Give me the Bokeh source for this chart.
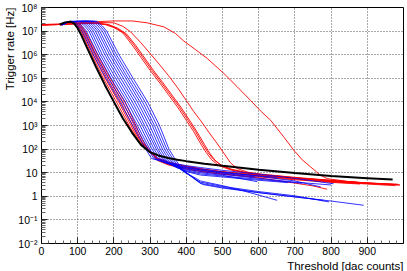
import numpy as np
from bokeh.plotting import figure
from bokeh.models import FixedTicker, Range1d, CustomJSTickFormatter, Title
from bokeh.embed import file_html
from bokeh.resources import INLINE

# ---------------- axis ticks / labels ----------------
X_MAJOR = [0, 100, 200, 300, 400, 500, 600, 700, 800, 900]
Y_EXPS = [-2, -1, 0, 1, 2, 3, 4, 5, 6, 7, 8]
Y_TICK_LABELS = ["10\u207b\u00b2", "10\u207b\u00b9", "1", "10", "10\u00b2", "10\u00b3",
                 "10\u2074", "10\u2075", "10\u2076", "10\u2077", "10\u2078"]
X_TITLE = "Threshold [dac counts]"
Y_TITLE = "Trigger rate [Hz]"

# ---------------- data: threshold [dac] and log10(rate [Hz]) ----------------
# black
blk_thr = [50, 65, 80, 90, 100, 110, 125, 150, 175, 200, 225, 250, 275, 300, 325, 350, 375, 400, 450, 500, 600, 700, 800, 900, 970]
blk_log = [7.28, 7.37, 7.40, 7.33, 7.12, 6.83, 6.32, 5.50, 4.72, 4.00, 3.30, 2.70, 2.18, 1.87, 1.72, 1.62, 1.55, 1.49, 1.38, 1.29, 1.13, 0.99, 0.86, 0.77, 0.71]

# red, steep group
r1_thr = [52, 65, 80, 94, 109, 139, 171, 207, 242, 265, 288, 320, 350, 400, 450, 500, 600, 700, 800, 900, 985]
r1_log = [7.26, 7.35, 7.39, 7.30, 7.0, 6.0, 5.0, 4.0, 3.0, 2.4, 2.0, 1.62, 1.45, 1.28, 1.15, 1.05, 0.90, 0.77, 0.65, 0.56, 0.51]
r2_thr = [52, 66, 82, 97, 112, 143, 176, 213, 247, 268, 290, 320, 350, 400, 450, 500, 600, 700, 800, 900, 978]
r2_log = [7.25, 7.35, 7.39, 7.30, 7.0, 6.0, 5.0, 4.0, 3.0, 2.4, 2.0, 1.58, 1.40, 1.22, 1.10, 1.00, 0.86, 0.73, 0.61, 0.52, 0.45]
r3_thr = [53, 67, 84, 100, 115, 147, 181, 219, 251, 271, 292, 320, 350, 400, 450, 500, 600, 700, 750, 789]
r3_log = [7.25, 7.35, 7.39, 7.30, 7.0, 6.0, 5.0, 4.0, 3.0, 2.4, 2.0, 1.55, 1.36, 1.18, 1.05, 0.95, 0.78, 0.56, 0.44, 0.30]
r4_thr = [54, 68, 86, 103, 118, 151, 186, 225, 256, 274, 294, 320, 350, 400, 450, 500, 600, 700, 800, 900, 990]
r4_log = [7.26, 7.36, 7.40, 7.31, 7.0, 6.0, 5.0, 4.0, 3.0, 2.4, 2.0, 1.60, 1.44, 1.26, 1.13, 1.03, 0.88, 0.75, 0.63, 0.54, 0.48]
r5_thr = [55, 70, 88, 106, 121, 155, 190, 231, 261, 278, 296, 320, 350, 400, 450, 500, 600, 700, 800, 880]
r5_log = [7.27, 7.36, 7.40, 7.31, 7.0, 6.0, 5.0, 4.0, 3.0, 2.4, 2.0, 1.52, 1.33, 1.15, 1.03, 0.93, 0.82, 0.70, 0.59, 0.52]

# red, slow group (start at 0)
r6_thr = [0, 50, 100, 150, 175, 200, 225, 250, 275, 300, 325, 350, 375, 400, 420, 440, 455, 470, 490, 520, 560, 600, 700, 800, 900, 975]
r6_log = [7.27, 7.29, 7.32, 7.33, 7.28, 7.15, 6.92, 6.42, 5.88, 5.34, 4.84, 4.32, 3.80, 3.22, 2.75, 2.22, 1.85, 1.55, 1.30, 1.13, 1.00, 0.92, 0.78, 0.66, 0.56, 0.50]
r7_thr = [0, 50, 100, 150, 180, 205, 230, 255, 280, 305, 330, 355, 380, 405, 425, 445, 460, 475, 495, 525, 560, 600, 700, 800, 870]
r7_log = [7.26, 7.28, 7.31, 7.33, 7.28, 7.14, 6.90, 6.42, 5.88, 5.34, 4.84, 4.32, 3.80, 3.22, 2.75, 2.22, 1.85, 1.57, 1.32, 1.15, 1.03, 0.95, 0.80, 0.68, 0.60]
r8_thr = [0, 50, 100, 150, 185, 210, 235, 260, 285, 310, 335, 360, 385, 410, 430, 450, 465, 480, 500, 530, 570, 600, 700, 800, 900]
r8_log = [7.26, 7.28, 7.31, 7.34, 7.28, 7.13, 6.88, 6.40, 5.86, 5.32, 4.82, 4.30, 3.78, 3.20, 2.72, 2.20, 1.82, 1.52, 1.28, 1.10, 0.98, 0.90, 0.76, 0.64, 0.55]
r9_thr = [0, 50, 100, 150, 200, 225, 246, 275, 300, 325, 350, 375, 400, 420, 440, 462, 485, 505, 522, 540, 570, 600, 700, 800, 900, 985]
r9_log = [7.25, 7.28, 7.33, 7.37, 7.35, 7.20, 6.97, 6.50, 6.05, 5.60, 5.13, 4.62, 4.06, 3.60, 3.20, 2.72, 2.24, 1.80, 1.42, 1.18, 1.02, 0.94, 0.79, 0.67, 0.57, 0.50]
r10_thr = [0, 50, 100, 150, 200, 250, 292, 338, 370, 393, 425, 458, 504, 540, 577, 605, 633, 669, 697, 720, 743, 771, 789, 850, 900, 990]
r10_log = [7.28, 7.30, 7.35, 7.40, 7.43, 7.43, 7.35, 7.18, 6.90, 6.58, 6.22, 5.84, 5.20, 4.65, 4.07, 3.62, 3.22, 2.52, 1.95, 1.55, 1.25, 0.89, 0.75, 0.62, 0.56, 0.48]

# blue group
b1_thr = [55, 70, 85, 100, 112, 143, 178, 216, 252, 288, 304, 340, 400, 439, 500, 600, 700, 807]
b1_log = [7.25, 7.38, 7.40, 7.22, 7.0, 6.0, 5.0, 4.0, 3.0, 2.0, 1.6, 1.45, 1.30, 1.22, 1.10, 0.94, 0.76, 0.53]
b2_thr = [56, 70, 91, 106, 118, 149, 185, 223, 259, 294, 310, 345, 400, 439, 500, 600, 700, 771]
b2_log = [7.25, 7.38, 7.40, 7.22, 7.0, 6.0, 5.0, 4.0, 3.0, 2.0, 1.6, 1.40, 1.25, 1.16, 1.03, 0.85, 0.65, 0.40]
b3_thr = [57, 71, 97, 112, 124, 156, 192, 230, 265, 299, 315, 350, 400, 439, 500, 560, 650]
b3_log = [7.26, 7.38, 7.41, 7.22, 7.0, 6.0, 5.0, 4.0, 3.0, 2.0, 1.6, 1.38, 1.22, 1.12, 1.00, 0.92, 0.80]
b4_thr = [58, 72, 104, 119, 131, 162, 198, 237, 272, 305, 321, 355, 400, 439, 500, 590]
b4_log = [7.26, 7.39, 7.41, 7.22, 7.0, 6.0, 5.0, 4.0, 3.0, 2.0, 1.6, 1.35, 1.20, 1.10, 0.98, 0.82]
b5_thr = [58, 72, 110, 125, 137, 168, 205, 244, 279, 311, 327, 360, 400, 439, 500, 600, 700, 800]
b5_log = [7.27, 7.39, 7.41, 7.22, 7.0, 6.0, 5.0, 4.0, 3.0, 2.0, 1.6, 1.32, 1.16, 1.05, 0.93, 0.76, 0.60, 0.48]
b6_thr = [59, 73, 116, 131, 143, 175, 212, 251, 285, 317, 333, 364, 400, 439, 500, 596]
b6_log = [7.27, 7.39, 7.41, 7.22, 7.0, 6.0, 5.0, 4.0, 3.0, 2.0, 1.6, 1.29, 1.12, 1.00, 0.89, 0.62]
b7_thr = [60, 74, 122, 137, 149, 181, 219, 258, 292, 322, 338, 368, 400, 439, 500, 600, 720]
b7_log = [7.28, 7.40, 7.42, 7.22, 7.0, 6.0, 5.0, 4.0, 3.0, 2.0, 1.6, 1.25, 1.08, 0.95, 0.86, 0.72, 0.55]
b8_thr = [60, 74, 128, 143, 155, 188, 226, 265, 299, 328, 344, 374, 405, 439, 500, 600, 680]
b8_log = [7.28, 7.40, 7.42, 7.22, 7.0, 6.0, 5.0, 4.0, 3.0, 2.0, 1.6, 1.21, 1.03, 0.90, 0.82, 0.68, 0.58]
b9_thr = [61, 75, 134, 149, 161, 194, 233, 272, 306, 334, 350, 375, 395, 420, 439, 500, 560, 600, 651]
b9_log = [7.29, 7.40, 7.42, 7.22, 7.0, 6.0, 5.0, 4.0, 3.0, 2.0, 1.6, 1.25, 1.02, 0.82, 0.65, 0.45, 0.22, 0.05, -0.17]
b10_thr = [61, 76, 141, 156, 168, 201, 239, 279, 312, 340, 356, 378, 398, 420, 439, 500, 600, 700, 794]
b10_log = [7.29, 7.41, 7.42, 7.22, 7.0, 6.0, 5.0, 4.0, 3.0, 2.0, 1.6, 1.22, 1.00, 0.78, 0.60, 0.42, 0.20, 0.02, -0.24]
b11_thr = [62, 76, 147, 162, 174, 207, 246, 286, 319, 346, 362, 382, 402, 422, 439, 500, 600, 700, 800, 890]
b11_log = [7.30, 7.41, 7.42, 7.22, 7.0, 6.0, 5.0, 4.0, 3.0, 2.0, 1.6, 1.20, 0.98, 0.74, 0.55, 0.38, 0.16, -0.03, -0.20, -0.38]
b12_thr = [63, 77, 153, 168, 180, 214, 253, 293, 326, 352, 368, 388, 408, 428, 445, 500, 600, 700, 780]
b12_log = [7.30, 7.41, 7.42, 7.22, 7.0, 6.0, 5.0, 4.0, 3.0, 2.0, 1.6, 1.16, 0.92, 0.68, 0.50, 0.35, 0.15, -0.02, -0.17]

RED = "#ff0000"
BLUE = "#0000ff"
BLACK = "#000000"
FONT = "Liberation Sans"

p = figure(width=407, height=271,
           x_range=Range1d(0, 1000), y_range=Range1d(1e-2, 1e8),
           y_axis_type="log", output_backend="svg", toolbar_location=None,
           min_border_left=41, min_border_right=4, min_border_top=7, min_border_bottom=28)
p.background_fill_color = "white"
p.border_fill_color = "white"
p.outline_line_color = "black"
p.outline_line_width = 1

x_minor = [v for v in range(0, 1001, 20) if v % 100 != 0]
y_major = [10.0 ** e for e in Y_EXPS]
y_minor = [m * 10.0 ** e for e in range(-2, 8) for m in range(2, 10)]

p.xaxis.ticker = FixedTicker(ticks=X_MAJOR, minor_ticks=x_minor)
p.yaxis.ticker = FixedTicker(ticks=y_major, minor_ticks=y_minor)
p.yaxis.formatter = CustomJSTickFormatter(
    args=dict(labels=Y_TICK_LABELS, exps=Y_EXPS),
    code="const e = Math.round(Math.log10(tick)); const i = exps.indexOf(e); return i >= 0 ? labels[i] : '';")

for ax in (p.xaxis[0], p.yaxis[0]):
    ax.axis_line_color = "black"
    ax.major_tick_in = 6
    ax.major_tick_out = 0
    ax.minor_tick_in = 3
    ax.minor_tick_out = 0
    ax.major_tick_line_color = "#222222"
    ax.minor_tick_line_color = "#666666"
    ax.major_label_text_font = FONT
    ax.major_label_text_font_size = "10.5px"
    ax.major_label_text_color = "black"
p.yaxis[0].minor_tick_in = 4
p.xaxis[0].major_label_standoff = 3
p.yaxis[0].major_label_standoff = 4

# axis titles (ROOT style: aligned to the end of each axis)
p.add_layout(Title(text=X_TITLE, align="right", text_font=FONT, text_font_size="11.5px",
                   text_font_style="normal", text_color="black", standoff=0, offset=0), "below")
p.add_layout(Title(text=Y_TITLE, align="right", text_font=FONT, text_font_size="11.5px",
                   text_font_style="normal", text_color="black", standoff=0, offset=0), "left")

p.grid.grid_line_color = "#555555"
p.grid.grid_line_dash = "1 2"
p.grid.grid_line_width = 1

def draw(thr, lg, color, width=1.0):
    p.line(thr, [10.0 ** v for v in lg], line_color=color, line_width=width)

for thr, lg in [(r6_thr, r6_log), (r7_thr, r7_log), (r8_thr, r8_log), (r9_thr, r9_log), (r10_thr, r10_log),
                (r1_thr, r1_log), (r2_thr, r2_log), (r3_thr, r3_log), (r4_thr, r4_log), (r5_thr, r5_log)]:
    draw(thr, lg, RED, 0.9)
for thr, lg in [(b1_thr, b1_log), (b2_thr, b2_log), (b3_thr, b3_log), (b4_thr, b4_log), (b5_thr, b5_log),
                (b6_thr, b6_log), (b7_thr, b7_log), (b8_thr, b8_log), (b9_thr, b9_log), (b10_thr, b10_log),
                (b11_thr, b11_log), (b12_thr, b12_log)]:
    draw(thr, lg, BLUE, 0.8)
draw(blk_thr, blk_log, BLACK, 2.0)

open("out.html", "w").write(file_html(p, INLINE))
